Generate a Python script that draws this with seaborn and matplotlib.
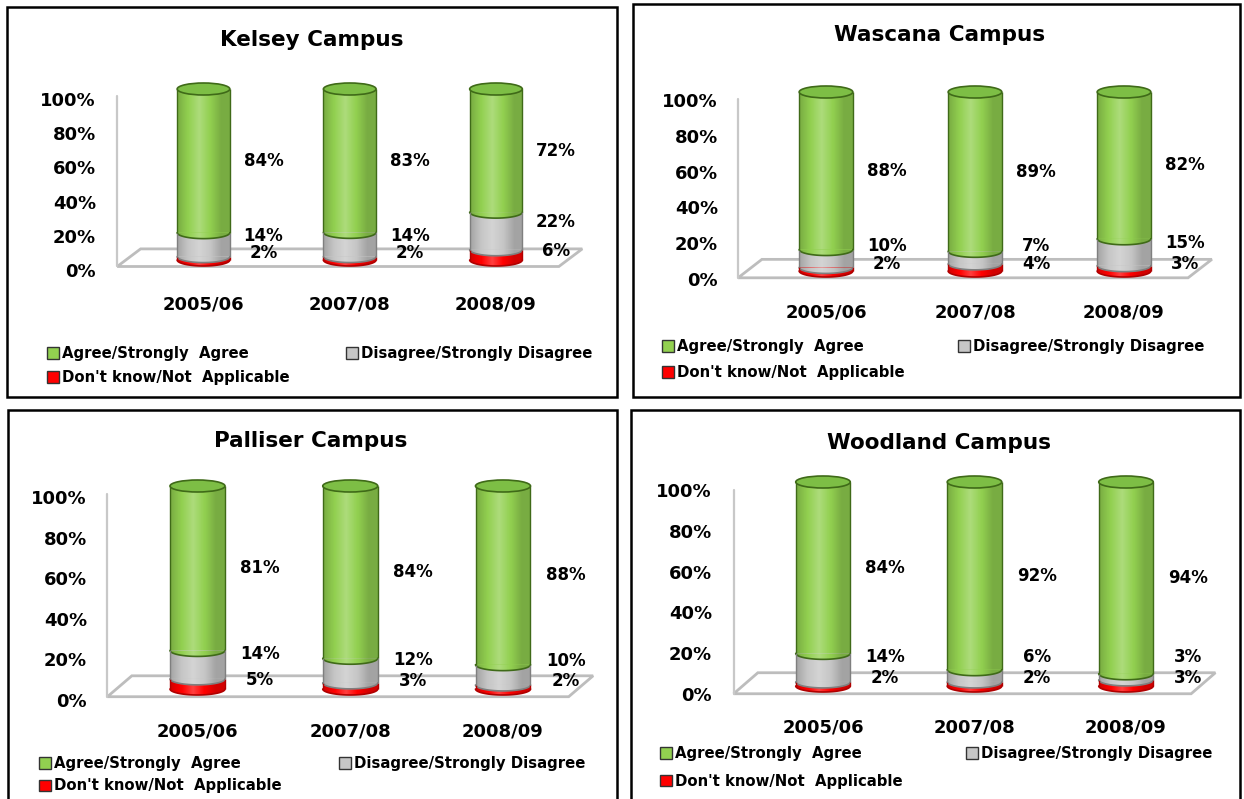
"""Campus survey results: 100% stacked cylinder charts for four campuses"""
import matplotlib.pyplot as plt
import matplotlib.transforms as mtransforms
import numpy as np
import pandas as pd
import seaborn as sns
from matplotlib.patches import Ellipse, Patch, Polygon, Rectangle

# Data (percent of respondents)
years = ["2005/06", "2007/08", "2008/09"]
series = ["Agree/Strongly  Agree", "Disagree/Strongly Disagree", "Don't know/Not  Applicable"]

kelsey_agree = [84, 83, 72]
kelsey_disagree = [14, 14, 22]
kelsey_dontknow = [2, 2, 6]

wascana_agree = [88, 89, 82]
wascana_disagree = [10, 7, 15]
wascana_dontknow = [2, 4, 3]

palliser_agree = [81, 84, 88]
palliser_disagree = [14, 12, 10]
palliser_dontknow = [5, 3, 2]

woodland_agree = [84, 92, 94]
woodland_disagree = [14, 6, 3]
woodland_dontknow = [2, 2, 3]

GREEN, GREEN_TOP, GREEN_EDGE = "#92D050", "#7DBE45", "#3F6A18"
GREY, GREY_EDGE = "#C6C6C6", "#7F7F7F"
RED, RED_EDGE = "#FF0000", "#B00000"

W, H = 1244, 799
XLIM = (-0.6, 2.75)
YLIM = (-4, 104)
BAR_W = 0.36

sns.set_style("white")
plt.rcParams["font.family"] = ["DejaVu Sans"]
plt.rcParams["font.weight"] = "bold"
plt.rcParams["text.color"] = "black"
plt.rcParams["xtick.color"] = "black"
plt.rcParams["ytick.color"] = "black"

fig = plt.figure(figsize=(W / 100, H / 100), dpi=100)

# horizontal shading across a cylinder body: darker edges, light highlight left of centre
_u = np.linspace(0, 1, 64)
_light = np.clip(1 - np.abs(_u - 0.42) / 0.42, 0, 1)
SHADE = np.zeros((1, 64, 4))
SHADE[0, :, :3] = np.where(_light[:, None] > 0.5, 1.0, 0.0)
SHADE[0, :, 3] = np.where(_light > 0.5, (_light - 0.5) * 0.5, (0.5 - _light) * 0.35)

# panel layouts in pixels of the output image
panels = [
    dict(title="Kelsey Campus", agree=kelsey_agree, dis=kelsey_disagree, dk=kelsey_dontknow,
         box=(7, 7, 617, 397), title_xy=(312, 40), cx0=203.5, cx2=496, y0=260, y100=89,
         tick_right=96, tick_off=10, cat_y=305, leg=(47, 346), leg_ls=0.62, leg_cs=3.8),
    dict(title="Wascana Campus", agree=wascana_agree, dis=wascana_disagree, dk=wascana_dontknow,
         box=(633, 4, 1240, 397), title_xy=(940, 35), cx0=826, cx2=1124, y0=271, y100=92,
         tick_right=718, tick_off=8, cat_y=313, leg=(662, 339), leg_ls=0.75, leg_cs=3.6),
    dict(title="Palliser Campus", agree=palliser_agree, dis=palliser_disagree, dk=palliser_dontknow,
         box=(8, 410, 617, 820), title_xy=(311, 441), cx0=197.5, cx2=503, y0=689, y100=486,
         tick_right=87, tick_off=11, cat_y=733, leg=(39, 756), leg_ls=0.5, leg_cs=3.9),
    dict(title="Woodland Campus", agree=woodland_agree, dis=woodland_disagree, dk=woodland_dontknow,
         box=(631, 410, 1240, 820), title_xy=(939, 443), cx0=823, cx2=1126, y0=686, y100=482,
         tick_right=712, tick_off=8, cat_y=728, leg=(660, 746), leg_ls=0.85, leg_cs=4.3),
]


def shade(ax, patch, extent, z):
    im = ax.imshow(SHADE, extent=extent, aspect="auto", interpolation="bilinear", zorder=z)
    im.set_clip_path(patch)


def draw_panel(p):
    sx = (p["cx2"] - p["cx0"]) / 2
    sy = (p["y0"] - p["y100"]) / 100
    left = p["cx0"] + XLIM[0] * sx
    right = p["cx0"] + XLIM[1] * sx
    bottom = p["y0"] - YLIM[0] * sy
    top = p["y0"] - YLIM[1] * sy
    ax = fig.add_axes([left / W, 1 - bottom / H, (right - left) / W, (bottom - top) / H])

    # frame box and title
    bx0, by0, bx1, by1 = p["box"]
    fig.add_artist(Rectangle((bx0 / W, 1 - by1 / H), (bx1 - bx0) / W, (by1 - by0) / H,
                             transform=fig.transFigure, fill=False, lw=1.8, ec="black"))
    fig.text(p["title_xy"][0] / W, 1 - p["title_xy"][1] / H, p["title"], ha="center",
             va="center", fontsize=15.5, fontweight="bold")

    total = [a + d + k for a, d, k in zip(p["agree"], p["dis"], p["dk"])]
    df = pd.DataFrame({
        "year": years,
        "dk": [k / t * 100 for k, t in zip(p["dk"], total)],
        "dis": [(k + d) / t * 100 for k, d, t in zip(p["dk"], p["dis"], total)],
        "all": [100.0] * len(years),
    })

    # 3-D looking floor and back wall line
    floor_front, floor_back, wall_x, floor_right, depth = -3.8, 6.5, -0.59, 2.43, 0.16
    ax.add_patch(Polygon([(wall_x, floor_front), (floor_right, floor_front),
                          (floor_right + depth, floor_back), (wall_x + depth, floor_back)],
                         closed=True, fc="white", ec="#BDBDBD", lw=2, zorder=1, clip_on=False))
    ax.plot([wall_x, wall_x], [floor_front, 96], color="#C8C8C8", lw=1.6, zorder=1, clip_on=False)

    # stacked bodies: drawn as overlapping cumulative bars
    layers = [("all", GREEN, 2), ("dis", GREY, 3), ("dk", RED, 4)]
    for col, fc, z in layers:
        n_before = len(ax.patches)
        sns.barplot(data=df, x="year", y=col, color=fc, saturation=1, width=BAR_W,
                    linewidth=0, errorbar=None, zorder=z, ax=ax)
        for bar in ax.patches[n_before:]:
            bx, by = bar.get_x(), bar.get_y()
            shade(ax, bar, [bx, bx + bar.get_width(), by, by + bar.get_height()], z + 0.1)

    # lower half-ellipses at each segment base give the cylinder look
    eh = 12 / sy
    t = np.linspace(np.pi, 2 * np.pi, 60)
    for i in range(len(years)):
        h1, h2 = df["dk"][i], df["dis"][i]
        caps = [(0, h1, RED, RED_EDGE, 5), (h1, h2, GREY, GREY_EDGE, 6),
                (h2, 100, GREEN, GREEN_EDGE, 7)]
        for lo, hi, fc, ec, z in caps:
            xs = i + BAR_W / 2 * np.cos(t)
            ys = lo + eh / 2 * np.sin(t)
            half = Polygon(np.column_stack([xs, ys]), closed=True, fc=fc, ec="none",
                           zorder=z, clip_on=False)
            ax.add_patch(half)
            shade(ax, half, [i - BAR_W / 2, i + BAR_W / 2, lo - eh / 2, lo], z + 0.1)
            ax.plot(xs, ys, color=ec, lw=1.2, zorder=z + 0.5, clip_on=False)
            ax.vlines([i - BAR_W / 2, i + BAR_W / 2], lo, hi, color=ec, lw=1, zorder=7.8)
        ax.add_patch(Ellipse((i, 100), BAR_W, eh, fc=GREEN_TOP, ec=GREEN_EDGE, lw=1.2,
                             zorder=8, clip_on=False))

        # data labels to the right of each cylinder
        r_y = max(h1 / 2, 2) + 2
        d_y = max((h1 + h2) / 2 + 5, r_y + 10)
        g_y = (h2 + 100) / 2
        for yv, val in [(g_y, p["agree"][i]), (d_y, p["dis"][i]), (r_y, p["dk"][i])]:
            ax.text(i + 0.41, yv, f"{val}%", ha="center", va="center", fontsize=12,
                    fontweight="bold", zorder=9)

    ax.set_xlim(*XLIM)
    ax.set_ylim(*YLIM)
    ax.set(xlabel="", ylabel="")
    for s in ax.spines.values():
        s.set_visible(False)
    ax.patch.set_alpha(0)

    ax.set_yticks([0, 20, 40, 60, 80, 100])
    ax.set_yticklabels([f"{v}%" for v in [0, 20, 40, 60, 80, 100]])
    ax.tick_params(axis="y", length=0, labelsize=13, pad=(left - p["tick_right"]) * 0.72)
    off = mtransforms.ScaledTranslation(0, -p["tick_off"] / 100, fig.dpi_scale_trans)
    for lbl in ax.get_yticklabels():
        lbl.set_transform(lbl.get_transform() + off)

    ax.set_xticks(range(len(years)))
    ax.set_xticklabels(years)
    ax.tick_params(axis="x", length=0, labelsize=13, pad=(p["cat_y"] - 10 - bottom) * 0.72)

    handles = [Patch(fc=GREEN, ec="#333333", lw=1), Patch(fc=RED, ec="#333333", lw=1),
               Patch(fc=GREY, ec="#333333", lw=1)]
    labels = [series[0], series[2], series[1]]
    ax.legend(handles, labels, loc="upper left",
              bbox_to_anchor=(p["leg"][0] / W, 1 - p["leg"][1] / H), bbox_transform=fig.transFigure,
              ncol=2, frameon=False, borderpad=0, borderaxespad=0, handlelength=0.8,
              handleheight=0.8, handletextpad=0.2, columnspacing=p["leg_cs"],
              labelspacing=p["leg_ls"], prop={"size": 10.7, "weight": "bold"})


for p in panels:
    draw_panel(p)

fig.savefig("out.png", dpi=100)
